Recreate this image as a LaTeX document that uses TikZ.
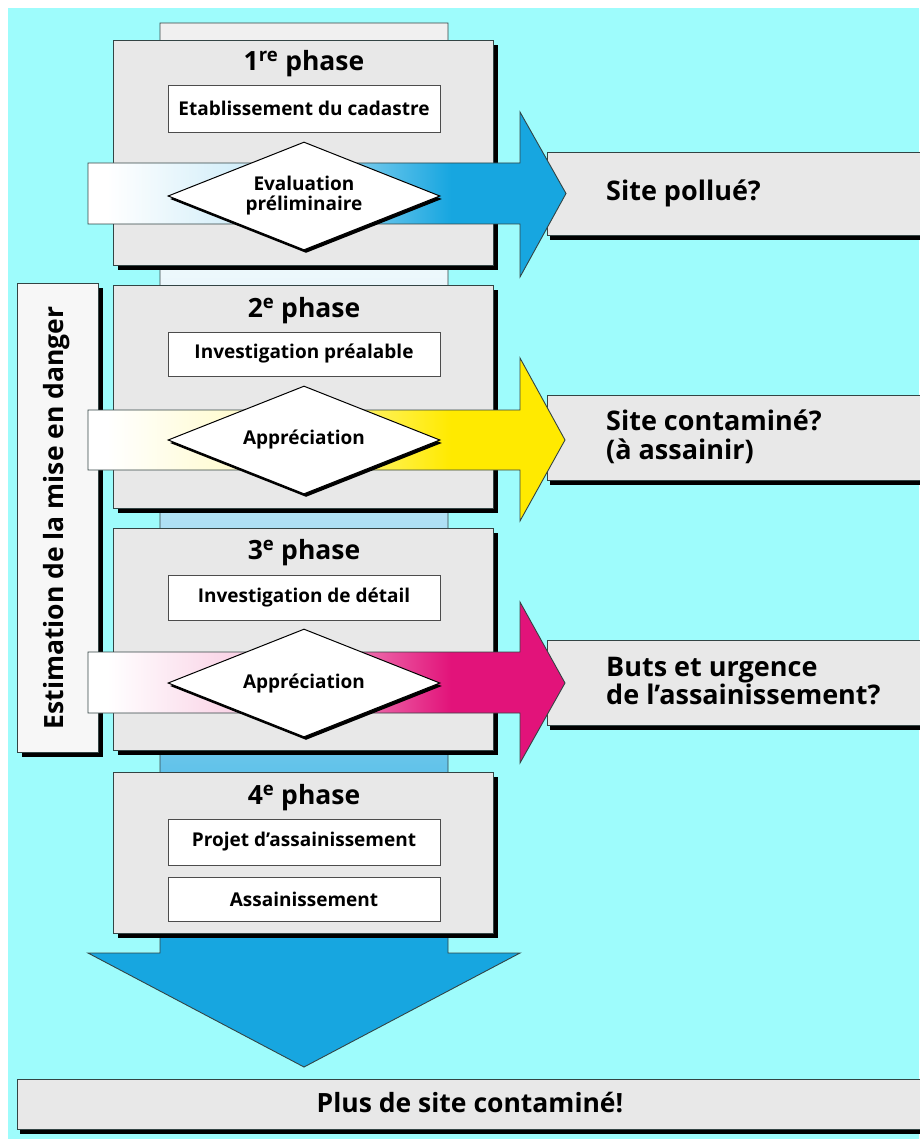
\documentclass[tikz,border=0pt]{standalone}
\usepackage{fontspec}
\setmainfont{Open Sans}
\usetikzlibrary{shapes.geometric,shadows}

\definecolor{bgcyan}{HTML}{9EFCFC}
\definecolor{boxgray}{HTML}{E8E8E8}
\definecolor{edge}{HTML}{334444}
\definecolor{ablue}{HTML}{17A6E0}
\definecolor{ayellow}{HTML}{FFEA00}
\definecolor{amag}{HTML}{E2137A}
\colorlet{ablueL}{ablue!25!white}
\colorlet{ayellowL}{ayellow!25!white}
\colorlet{amagL}{amag!25!white}
\colorlet{ablueA}{ablue!65!white}
\colorlet{ablueB}{ablue!35!white}
\colorlet{ablueC}{ablue!8!white}
\colorlet{topgray}{black!6!white}

\pgfdeclarehorizontalshading{shblue}{100bp}{color(0bp)=(white); color(27bp)=(white); color(45bp)=(ablueL); color(63bp)=(ablue); color(100bp)=(ablue)}
\pgfdeclarehorizontalshading{shyellow}{100bp}{color(0bp)=(white); color(27bp)=(white); color(45bp)=(ayellowL); color(63bp)=(ayellow); color(100bp)=(ayellow)}
\pgfdeclarehorizontalshading{shmag}{100bp}{color(0bp)=(white); color(27bp)=(white); color(45bp)=(amagL); color(63bp)=(amag); color(100bp)=(amag)}
\pgfdeclareverticalshading{shdown}{100bp}{color(0bp)=(ablue); color(31bp)=(ablue); color(40bp)=(ablueA); color(51bp)=(ablueB); color(63bp)=(ablueC); color(75bp)=(topgray); color(100bp)=(topgray)}

\tikzset{
  shad/.style={drop shadow={shadow xshift=#1pt, shadow yshift=-#1pt, opacity=1, fill=black}},
  phasebox/.style={rectangle, draw=edge, line width=0.8pt, fill=boxgray, inner sep=0pt, shad=5},
  innerbox/.style={rectangle, draw=black!70, line width=0.8pt, fill=white, inner sep=0pt,
    minimum width=272pt, font=\fontsize{19}{21}\selectfont\bfseries},
  decision/.style={diamond, aspect=2.52, draw=black, line width=1pt, fill=white, inner sep=0pt,
    minimum width=272pt, minimum height=108pt, align=center,
    font=\fontsize{19}{20}\selectfont\bfseries,
    drop shadow={shadow xshift=2pt, shadow yshift=-3pt, opacity=1, fill=black}},
  resultbox/.style={rectangle, draw=edge, line width=0.8pt, fill=boxgray, inner sep=0pt,
    minimum width=383pt,
    drop shadow={shadow xshift=3pt, shadow yshift=-5pt, opacity=1, fill=black}},
  resulttext/.style={anchor=west, align=left, inner sep=0pt,
    font=\fontsize{27}{28.5}\selectfont\bfseries},
  phasetitle/.style={inner sep=0pt, font=\fontsize{26.5}{28}\selectfont\bfseries},
  bigtext/.style={inner sep=0pt, font=\fontsize{26.5}{28}\selectfont\bfseries},
  bigarrow/.style={draw=edge, line width=0.9pt},
}

\begin{document}
\begin{tikzpicture}[x=1pt,y=-1pt]
\useasboundingbox (0,0) rectangle (919,1139);
\fill[white] (0,0) rectangle (919,1139);
\fill[bgcyan] (8,8) rectangle (919,1139);

% big downward arrow
\path[shade, shading=shdown, bigarrow]
  (160,23) -- (448,23) -- (448,953) -- (520,953) -- (304,1067) -- (88,953) -- (160,953) -- cycle;

% phase boxes
\node[phasebox, minimum width=380pt, minimum height=225pt] (p1) at (303,152.5) {};
\node[phasebox, minimum width=380pt, minimum height=223pt] (p2) at (303,396.5) {};
\node[phasebox, minimum width=380pt, minimum height=222pt] (p3) at (303,639) {};
\node[phasebox, minimum width=380pt, minimum height=161pt] (p4) at (303,852.5) {};

% left vertical box
\node[rectangle, draw=edge, line width=0.8pt, fill=white!97!black, inner sep=0pt,
      minimum width=81pt, minimum height=469pt, shad=5] (lbox) at (57.5,517.5) {};
\node[bigtext, rotate=90] (ltext) at (57,518) {Estimation de la mise en danger};

% result boxes
\node[resultbox, minimum height=83pt] (r1) at (738.5,193.5) {};
\node[resultbox, minimum height=85pt] (r2) at (738.5,437.5) {};
\node[resultbox, minimum height=85pt] (r3) at (738.5,682.5) {};
\node[resulttext] (t1) at (606,193) {Site pollué?};
\node[resulttext] (t2) at (606,437) {Site contaminé?\\(à assainir)};
\node[resulttext] (t3) at (606,681) {Buts et urgence\\de l’assainissement?};

% titles and inner boxes
\node[phasetitle] (h1) at (304,64) {1\textsuperscript{re} phase};
\node[phasetitle] (h2) at (304,311) {2\textsuperscript{e} phase};
\node[phasetitle] (h3) at (304,553) {3\textsuperscript{e} phase};
\node[phasetitle] (h4) at (304,798) {4\textsuperscript{e} phase};

\node[innerbox, minimum height=47pt] (i1) at (304,108.5) {Etablissement du cadastre};
\node[innerbox, minimum height=44pt] (i2) at (304,354) {Investigation préalable};
\node[innerbox, minimum height=45pt] (i3) at (304,597.5) {Investigation de détail};
\node[innerbox, minimum height=46pt] (i4) at (304,842) {Projet d’assainissement};
\node[innerbox, minimum height=44pt] (i5) at (304,899) {Assainissement};

% horizontal arrows
\path[shade, shading=shblue, bigarrow]
  (88,163) -- (520,163) -- (520,112) -- (566,193.5) -- (520,277) -- (520,224) -- (88,224) -- cycle;
\path[shade, shading=shyellow, bigarrow]
  (88,410) -- (520,410) -- (520,358) -- (565,440) -- (520,521) -- (520,470) -- (88,470) -- cycle;
\path[shade, shading=shmag, bigarrow]
  (88,652) -- (520,652) -- (520,602) -- (565,683) -- (520,763) -- (520,713) -- (88,713) -- cycle;

% decisions
\node[decision] (d1) at (304,196) {Evaluation\\préliminaire};
\node[decision] (d2) at (304,440) {Appréciation};
\node[decision] (d3) at (304,683) {Appréciation};

% final box
\node[rectangle, draw=edge, line width=0.8pt, fill=boxgray, inner sep=0pt,
      minimum width=913pt, minimum height=50pt,
      drop shadow={shadow xshift=3pt, shadow yshift=-4pt, opacity=1, fill=black}] (fin) at (473.5,1104.5) {};
\node[bigtext] (fint) at (470,1103) {Plus de site contaminé!};
\end{tikzpicture}
\end{document}
